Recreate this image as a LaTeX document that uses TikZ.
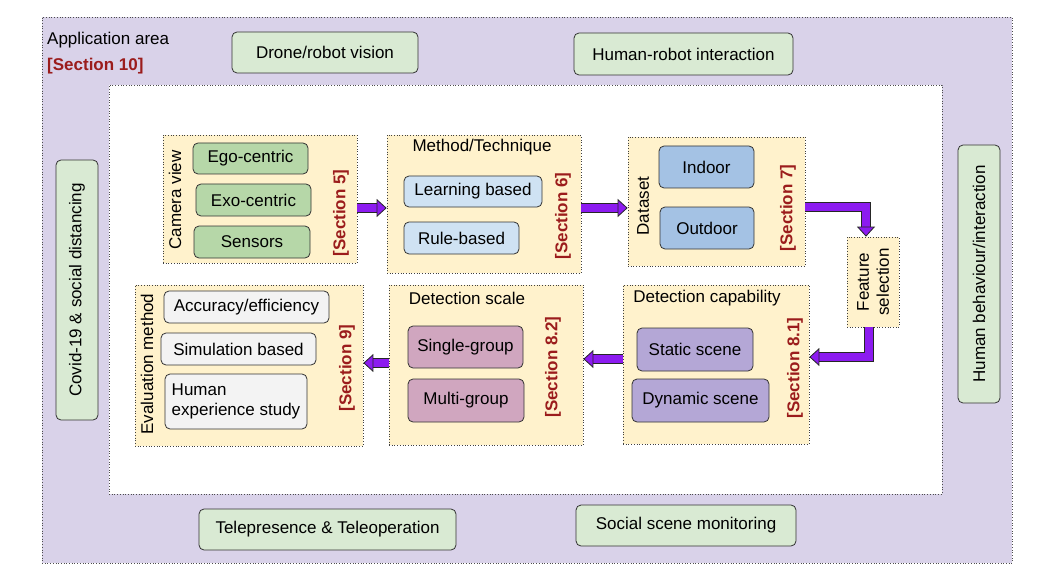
\documentclass[tikz,border=0pt]{standalone}
\usepackage{fontspec}
\setmainfont{Liberation Sans}
\usetikzlibrary{positioning,arrows.meta}

\definecolor{areafill}{HTML}{D9D2E9}
\definecolor{cream}{HTML}{FFF2CC}
\definecolor{appgreen}{HTML}{D9EAD3}
\definecolor{camgreen}{HTML}{B6D7A8}
\definecolor{methblue}{HTML}{CFE2F3}
\definecolor{datablue}{HTML}{A4C2E4}
\definecolor{capviolet}{HTML}{B4A7D6}
\definecolor{scalemauve}{HTML}{D0A6BF}
\definecolor{evalgray}{HTML}{F3F3F3}
\definecolor{secred}{HTML}{9B1C1C}
\definecolor{flowviolet}{HTML}{8C1BF0}

% fat outlined arrow along a path
\newcommand\flowarrow[1]{%
  \draw[line width=9.6pt, black!85, shorten >=9pt, line join=miter] #1;
  \draw[line width=8pt, flowviolet, shorten >=8pt, line join=miter] #1;
  \draw[line width=.8pt, flowviolet,
    -{Triangle[width=18pt, length=10pt, fill=flowviolet, color=black!85]}] #1;
}

\begin{document}
\begin{tikzpicture}[
    x=1pt, y=-1pt, inner sep=2pt,
    font=\fontsize{17}{20}\selectfont,
    panel/.style={draw=black!75, dotted, line width=.7pt, fill=cream},
    item/.style={draw=black!80, rounded corners=5pt, line width=.8pt, fill=#1, align=center},
    appbox/.style={item=appgreen},
    sidelabel/.style={rotate=90},
    seclabel/.style={rotate=90, text=secred, font=\fontsize{17}{20}\selectfont\bfseries}]
  \useasboundingbox (0,0) rectangle (1046,580);

  \node[draw=black!70, dotted, line width=.7pt, fill=areafill,
    minimum width=970, minimum height=546] (area) at (527,290) {};
  \node[draw=black!70, dotted, line width=.7pt, fill=white,
    minimum width=833, minimum height=409] (canvas) at (525.5,289.5) {};

  \node[anchor=west] (area-title) at (45,40) {Application area};
  \node[anchor=west, text=secred, font=\fontsize{17}{20}\selectfont\bfseries]
    (area-sec) at (45,66) {[Section 10]};

  \node[appbox, minimum width=186, minimum height=41] (drone) at (325,52.5) {Drone/robot vision};
  \node[appbox, minimum width=219, minimum height=42] (hri) at (683.5,54) {Human-robot interaction};
  \node[appbox, rotate=90, minimum width=260, minimum height=42] (covid) at (77,290) {Covid-19 \& social distancing};
  \node[appbox, rotate=90, minimum width=258, minimum height=42] (behav) at (979,274) {Human behaviour/interaction};
  \node[appbox, minimum width=257, minimum height=41] (tele) at (327.5,529.5) {Telepresence \& Teleoperation};
  \node[appbox, minimum width=220, minimum height=41] (monitor) at (686,525.5) {Social scene monitoring};

  % section panels
  \node[panel, minimum width=194, minimum height=128] (cam) at (260,199) {};
  \node[panel, minimum width=194, minimum height=138] (meth) at (484,204) {};
  \node[panel, minimum width=177, minimum height=129] (data) at (716.5,201.5) {};
  \node[panel, minimum width=52, minimum height=90] (feat) at (873,282) {};
  \node[panel, minimum width=186, minimum height=159] (detcap) at (716,364.5) {};
  \node[panel, minimum width=194, minimum height=160] (detscale) at (486,365) {};
  \node[panel, minimum width=228, minimum height=161] (eval) at (249,365.5) {};

  \node[sidelabel] (cam-title) at (175,200) {Camera view};
  \node[seclabel] (cam-sec) at (341,213) {[Section 5]};
  \node[item=camgreen, minimum width=115, minimum height=31] (ego) at (250.5,158.5) {Ego-centric};
  \node[item=camgreen, minimum width=115, minimum height=32] (exo) at (253.5,200) {Exo-centric};
  \node[item=camgreen, minimum width=116, minimum height=32] (sensors) at (252,242) {Sensors};

  \node (meth-title) at (482,147) {Method/Technique};
  \node[seclabel] (meth-sec) at (563,216) {[Section 6]};
  \node[item=methblue, minimum width=138, minimum height=31] (learn) at (473,191.5) {Learning based};
  \node[item=methblue, minimum width=115, minimum height=32] (rule) at (461.5,238) {Rule-based};

  \node[sidelabel] (data-title) at (643,206) {Dataset};
  \node[seclabel] (data-sec) at (788,208) {[Section 7]};
  \node[item=datablue, minimum width=95, minimum height=42] (indoor) at (706.5,167) {Indoor};
  \node[item=datablue, minimum width=94, minimum height=42] (outdoor) at (707,228) {Outdoor};

  \node[sidelabel, align=center] (feat-title) at (873,282) {Feature\\selection};

  \node (detcap-title) at (707,298) {Detection capability};
  \node[seclabel] (detcap-sec) at (795,368) {[Section 8.1]};
  \node[item=capviolet, minimum width=116, minimum height=43] (static) at (695,349.5) {Static scene};
  \node[item=capviolet, minimum width=137, minimum height=43] (dynamic) at (700.5,400.5) {Dynamic scene};

  \node (detscale-title) at (467,298) {Detection scale};
  \node[seclabel] (detscale-sec) at (553,367) {[Section 8.2]};
  \node[item=scalemauve, minimum width=115, minimum height=42] (single) at (465.5,347) {Single-group};
  \node[item=scalemauve, minimum width=116, minimum height=43] (multi) at (466,400.5) {Multi-group};

  \node[sidelabel] (eval-title) at (147,364) {Evaluation method};
  \node[seclabel] (eval-sec) at (347,368) {[Section 9]};
  \node[item=evalgray, minimum width=165, minimum height=32] (acc) at (246.5,307) {Accuracy/efficiency};
  \node[item=evalgray, minimum width=155, minimum height=32] (sim) at (238.5,349) {Simulation based};
  \node[item=evalgray, align=left, minimum width=142, minimum height=55] (human) at (236,401.5) {Human\\experience study};

  % flow between the panels
  \coordinate (rail-a) at (0,208);
  \coordinate (bend-a) at (866,207);
  \coordinate (bend-b) at (869,357);
  \coordinate (rail-b) at (0,359);
  \coordinate (rail-c) at (0,363);
  \flowarrow{(cam.east |- rail-a) -- (meth.west |- rail-a)}
  \flowarrow{(meth.east |- rail-a) -- (data.west |- rail-a)}
  \flowarrow{(data.east |- bend-a) -- (bend-a) -- (bend-a |- feat.north)}
  \flowarrow{(bend-b |- feat.south) -- (bend-b) -- (bend-b -| detcap.east)}
  \flowarrow{(detcap.west |- rail-b) -- (detscale.east |- rail-b)}
  \flowarrow{(detscale.west |- rail-c) -- (eval.east |- rail-c)}
\end{tikzpicture}
\end{document}
